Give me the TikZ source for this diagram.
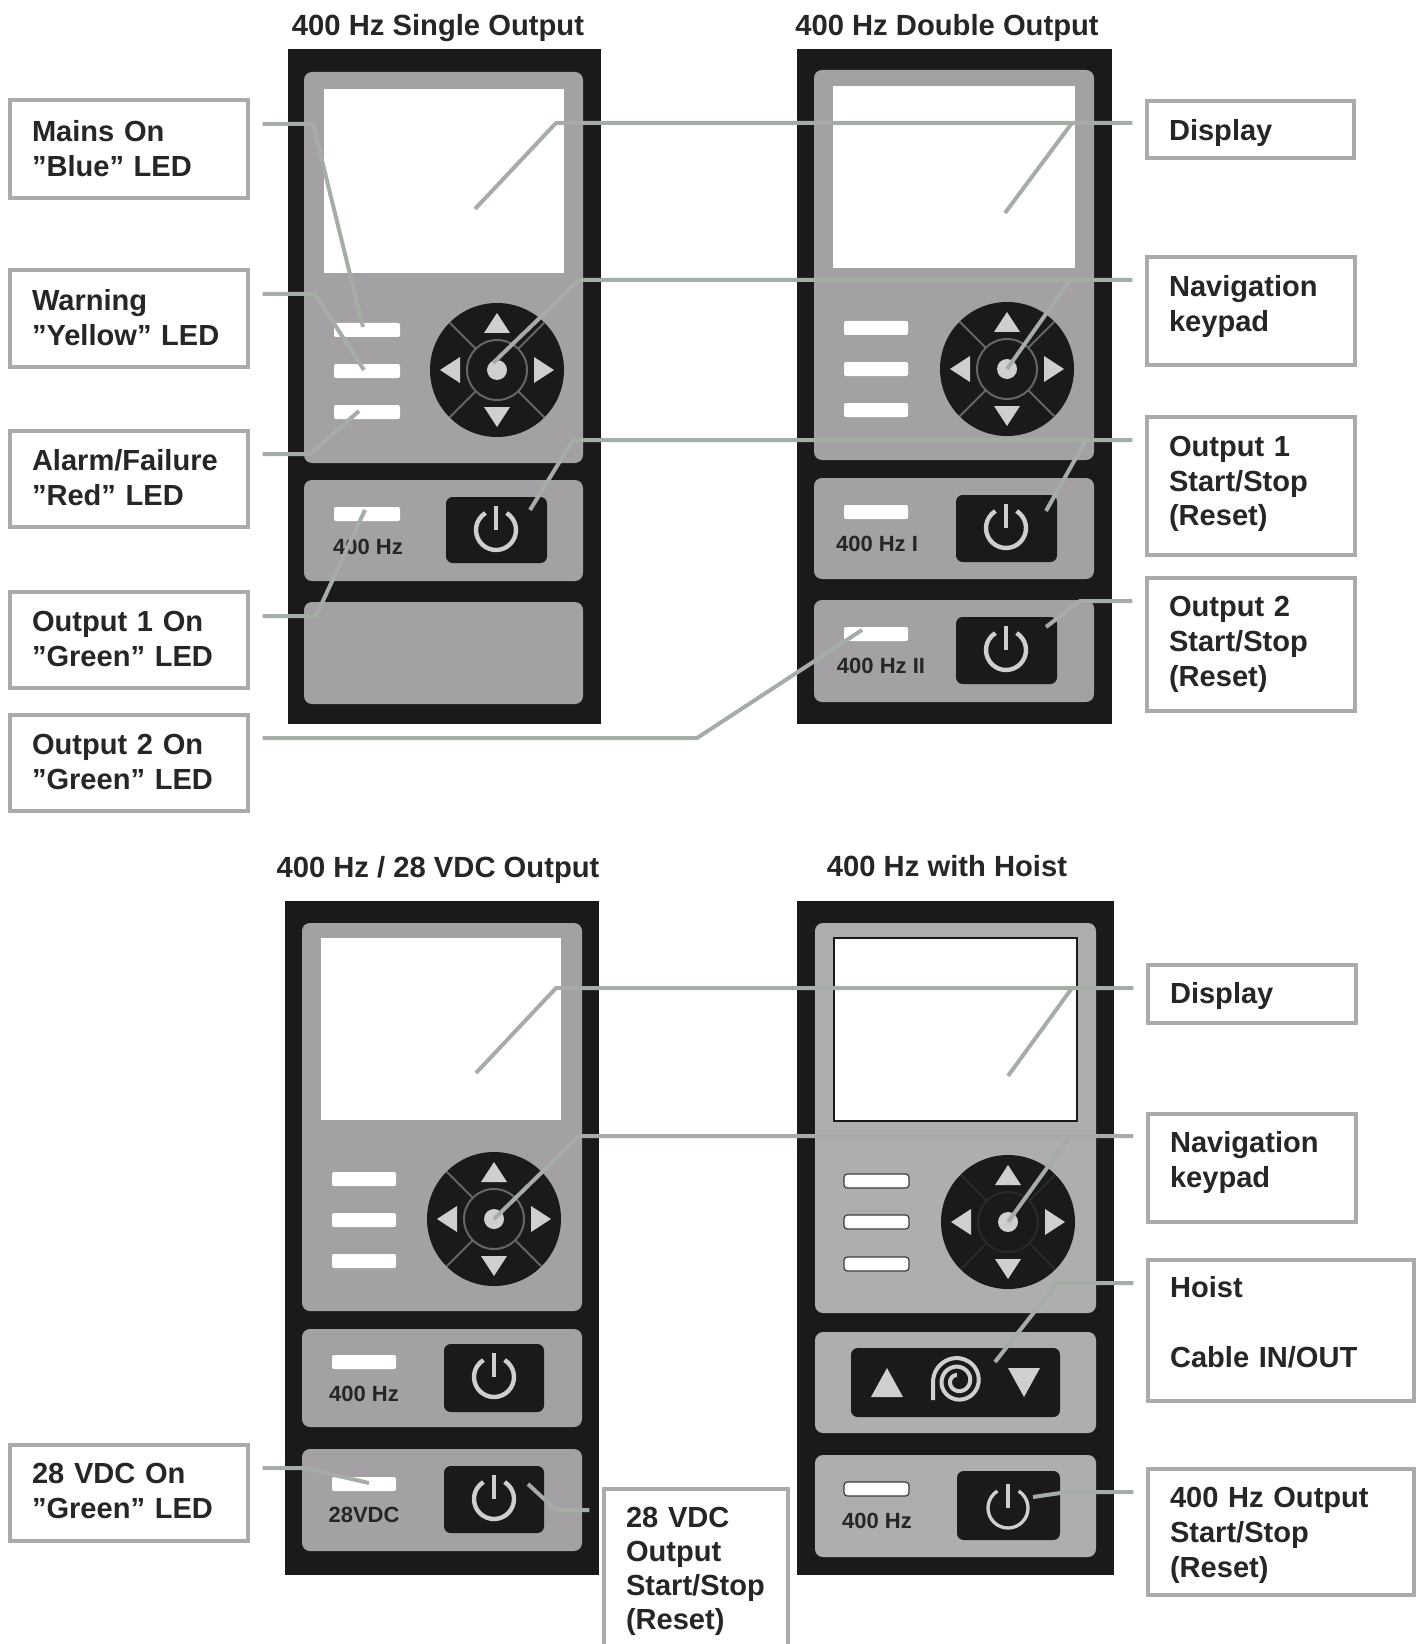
\documentclass[tikz,border=0pt]{standalone}
\usepackage{fontspec}
\setmainfont{Liberation Sans}
\definecolor{pblack}{HTML}{1A1A1A}
\definecolor{pgray}{HTML}{A3A1A3}
\definecolor{pgrayb}{HTML}{AEAEAE}
\definecolor{lborder}{HTML}{ABABAB}
\definecolor{leadc}{HTML}{A6ADA6}
\definecolor{iconc}{HTML}{CFCFCF}
\definecolor{ltext}{HTML}{262626}
\definecolor{kpfaint}{HTML}{2A2A2A}
\tikzset{
  base/.style={rectangle,inner sep=0pt,outer sep=0pt},
  outerp/.style={base,fill=pblack},
  sect/.style={base,fill=pgray,rounded corners=6pt},
  sectb/.style={base,fill=pgrayb,rounded corners=6pt},
  disp/.style={base,fill=white},
  dispb/.style={base,fill=white,draw=pblack,line width=1.2pt},
  led/.style={base,fill=white,rounded corners=1.5pt},
  ledb/.style={base,fill=white,draw=pblack!85,line width=0.9pt,rounded corners=2.5pt},
  btn/.style={base,fill=pblack,rounded corners=5pt},
  lbl/.style={base,draw=lborder,line width=3pt,fill=white,inner xsep=16.5pt,align=left,
    text width=\bxw-33pt,text=ltext,font=\fontsize{21.8}{26.2}\selectfont\bfseries},
  ttl/.style={base,text=ltext,font=\fontsize{21.9}{26}\selectfont\bfseries},
  ptxt/.style={base,text=ltext,font=\fontsize{16.5}{20}\selectfont\bfseries},
  leader/.style={draw=leadc,line width=3pt,line join=round},
  fromb/.style={leader,shorten <=11pt},
}
% invisible struts that move a label's lines inside its box
\newcommand\dpt[1]{\rule[-#1]{0pt}{#1}}
\newcommand\hgt[1]{\rule{0pt}{#1}}
\newcommand\bx[7][]{%
  \pgfmathsetlengthmacro\bxw{(#5-#3)*0.75}%
  \pgfmathsetlengthmacro\bxh{(#6-#4)*0.75}%
  \pgfmathsetmacro\bxcx{(#3+#5)/2}%
  \pgfmathsetmacro\bxcy{(#4+#6)/2}%
  \node[#1,minimum width=\bxw,minimum height=\bxh] (#2) at (\bxcx,\bxcy) {#7};}
\newcommand\kp[4]{%
  \node[base,circle,fill=pblack,minimum size=100.5pt] (#1) at (#2,#3) {};
  \begin{scope}[shift={(#2,#3)}]
    \draw[#4,line width=1.5pt] (0,0) circle[radius=22.5pt];
    \foreach \a in {45,135,225,315} \draw[#4,line width=1.5pt] (\a:22.5pt) -- (\a:50pt);
    \fill[iconc] (0,0) circle[radius=7.5pt];
    \foreach \a in {0,90,180,270} \fill[iconc,rotate=\a] (0,-57) -- (13,-37) -- (-13,-37) -- cycle;
  \end{scope}}
\newcommand\pw[3][3.3pt]{%
  \draw[iconc,line width=#1] ([shift={(58:15pt)}]#2,#3) arc[start angle=58,end angle=-238,radius=15pt];
  \draw[iconc,line width=#1] (#2,#3-24) -- (#2,#3);}
\begin{document}
\begin{tikzpicture}[x=0.75pt,y=-0.75pt]
\useasboundingbox (0,0) rectangle (1421,1644);
\fill[white] (0,0) rectangle (1421,1644);
% titles
\node[ttl] (t1) at (438,28) {400 Hz Single Output};
\node[ttl] (t2) at (947,28) {400 Hz Double Output};
\node[ttl] (t3) at (438,870) {400 Hz / 28 VDC Output};
\node[ttl] (t4) at (947,866) {400 Hz with Hoist};
% panel 1
\bx[outerp]{pa}{288}{49}{601}{724}{}
\bx[sect]{pam}{304}{72}{583}{463}{}
\bx[disp]{pad}{324}{89}{564}{273}{}
\bx[led]{pal1}{334}{323}{400}{337}{}
\bx[led]{pal2}{334}{364}{400}{378}{}
\bx[led]{pal3}{334}{405}{400}{419}{}
\kp{pak}{497}{370}{black!60}
\bx[sect]{pas}{304}{480}{583}{581}{}
\bx[led]{pal4}{334}{507}{400}{521}{}
\node[ptxt] (pat) at (368,547) {400 Hz};
\bx[btn]{pab}{446}{497}{547}{563}{}
\pw{496}{530}
\bx[sect]{pae}{304}{602}{583}{704}{}
% panel 2
\bx[outerp]{pb}{797}{49}{1112}{724}{}
\bx[sect]{pbm}{814}{70}{1094}{460}{}
\bx[disp]{pbd}{833}{86}{1075}{268}{}
\bx[led]{pbl1}{844}{321}{908}{335}{}
\bx[led]{pbl2}{844}{362}{908}{376}{}
\bx[led]{pbl3}{844}{403}{908}{417}{}
\kp{pbk}{1007}{369}{black!60}
\bx[sect]{pbs}{814}{478}{1094}{579}{}
\bx[led]{pbl4}{844}{505}{908}{519}{}
\node[ptxt] (pbt) at (877,544) {400 Hz I};
\bx[btn]{pbb}{956}{495}{1057}{562}{}
\pw{1006}{528}
\bx[sect]{pbe}{814}{600}{1094}{702}{}
\bx[led]{pbl5}{844}{627}{908}{641}{}
\node[ptxt] (pbu) at (881,666) {400 Hz II};
\bx[btn]{pbc}{956}{617}{1057}{684}{}
\pw{1006}{650}
% panel 3
\bx[outerp]{pc}{285}{901}{599}{1575}{}
\bx[sect]{pcm}{302}{923}{582}{1311}{}
\bx[disp]{pcd}{321}{938}{561}{1120}{}
\bx[led]{pcl1}{332}{1172}{396}{1186}{}
\bx[led]{pcl2}{332}{1213}{396}{1227}{}
\bx[led]{pcl3}{332}{1254}{396}{1268}{}
\kp{pck}{494}{1219}{black!60}
\bx[sect]{pcs}{302}{1329}{582}{1427}{}
\bx[led]{pcl4}{332}{1355}{396}{1369}{}
\node[ptxt] (pct) at (364,1394) {400 Hz};
\bx[btn]{pcb}{444}{1344}{544}{1412}{}
\pw{494}{1377}
\bx[sect]{pce}{302}{1449}{582}{1551}{}
\bx[led]{pcl5}{332}{1477}{396}{1491}{}
\node[ptxt] (pcu) at (364,1515) {28VDC};
\bx[btn]{pcc}{444}{1466}{544}{1533}{}
\pw{494}{1499}
% panel 4
\bx[outerp]{pd}{797}{901}{1114}{1575}{}
\bx[sectb]{pdm}{815}{923}{1096}{1313}{}
\bx[dispb]{pdd}{834}{938}{1077}{1121}{}
\bx[ledb]{pdl1}{844}{1174}{909}{1188}{}
\bx[ledb]{pdl2}{844}{1215}{909}{1229}{}
\bx[ledb]{pdl3}{844}{1257}{909}{1271}{}
\kp{pdk}{1008}{1222}{kpfaint}
\bx[sectb]{pds}{815}{1332}{1096}{1433}{}
\bx[btn]{pdh}{851}{1348}{1060}{1417}{}
\fill[iconc] (887,1368) -- (903,1397) -- (871,1397) -- cycle;
\fill[iconc] (1024,1397) -- (1040,1368) -- (1008,1368) -- cycle;
\draw[iconc,line width=3pt] (933,1400) -- (933,1381) -- plot[smooth,domain=0:1,samples=70,variable=\t]
  ({958+(25-19*\t)*cos(180-800*\t)},{1381-(25-19*\t)*sin(180-800*\t)});
\bx[sectb]{pde}{815}{1455}{1096}{1557}{}
\bx[ledb]{pdl4}{844}{1482}{909}{1496}{}
\node[ptxt] (pdt) at (877,1521) {400 Hz};
\bx[btn]{pdb}{957}{1471}{1060}{1540}{}
\pw[2.5pt]{1008}{1508}
% label boxes
\bx[lbl]{lmains}{10}{100}{248}{198}{Mains On\\”Blue” LED}
\bx[lbl]{lwarn}{10}{270}{248}{367}{Warning\\”Yellow” LED\dpt{1.6pt}}
\bx[lbl]{lalarm}{10}{431}{248}{527}{Alarm/Failure\\”Red” LED\dpt{2.4pt}}
\bx[lbl]{lout1}{10}{592}{248}{688}{Output 1 On\\”Green” LED\dpt{1.6pt}}
\bx[lbl]{lout2}{10}{715}{248}{811}{Output 2 On\\”Green” LED\dpt{2.4pt}}
\bx[lbl]{lvdc}{10}{1445}{248}{1541}{28 VDC On\\”Green” LED\dpt{3.1pt}}
\bx[lbl]{rdisp}{1147}{101}{1354}{158}{\hgt{20.6pt}Display}
\bx[lbl]{rnav}{1147}{257}{1355}{365}{Navigation\\keypad\dpt{11.6pt}}
\bx[lbl]{rout1}{1147}{417}{1355}{555}{Output 1\\Start/Stop\\(Reset)\dpt{7.7pt}}
\bx[lbl]{rout2}{1147}{578}{1355}{711}{Output 2\\Start/Stop\\(Reset)}
\bx[lbl]{qdisp}{1148}{965}{1356}{1023}{\hgt{19pt}Display}
\bx[lbl]{qnav}{1148}{1114}{1356}{1222}{Navigation\\keypad\dpt{12.4pt}}
\bx[lbl]{qhoist}{1148}{1260}{1414}{1401}{Hoist\\[26.2pt]Cable IN/OUT\dpt{13pt}}
\bx[lbl]{qout}{1148}{1469}{1414}{1595}{\hgt{20.6pt}400 Hz Output\\Start/Stop\\(Reset)}
\bx[lbl,font=\fontsize{21.8}{25.4}\selectfont\bfseries]{lvout}{604}{1489}{788}{1650}{\hgt{18.3pt}28 VDC\\Output\\Start/Stop\\(Reset)}
% leader points
\coordinate (e1) at (313,124);   \coordinate (e2) at (315,294);
\coordinate (e3) at (310,454);   \coordinate (e4) at (316,616);
\coordinate (e5) at (697,738);
\coordinate (e6) at (556,123);   \coordinate (e6b) at (1072,123);
\coordinate (e7) at (579,280);   \coordinate (e7b) at (1070,280);
\coordinate (e8) at (573,440);   \coordinate (e8b) at (1086,440);
\coordinate (e9) at (1080,601);
\coordinate (e10) at (556,988);  \coordinate (e10b) at (1072,988);
\coordinate (e11) at (579,1136); \coordinate (e11b) at (1070,1136);
\coordinate (e12) at (1057,1283);
\coordinate (e13) at (1067,1492);
\coordinate (e14) at (304,1468);
\coordinate (e15) at (556,1510);
\coordinate (d1) at (475,209);   \coordinate (d2) at (1005,213);
\coordinate (d3) at (476,1073);  \coordinate (d4) at (1008,1076);
\coordinate (b1) at (530,510);   \coordinate (b2) at (1046,511);
\coordinate (b3) at (1046,627);  \coordinate (b4) at (528,1484);
\coordinate (b5) at (1033,1497); \coordinate (h1) at (995,1362);
% leaders
\draw[fromb] (lmains.east |- e1) -- (e1) -- ([shift={(-4,-3)}]pal1.center);
\draw[fromb] (lwarn.east |- e2) -- (e2) -- ([shift={(-3,-1)}]pal2.center);
\draw[fromb] (lalarm.east |- e3) -- (e3) -- ([shift={(-8,-1)}]pal3.center);
\draw[fromb] (lout1.east |- e4) -- (e4) -- ([shift={(-2,-4)}]pal4.center);
\draw[fromb] (lout2.east |- e5) -- (e5) -- ([shift={(-14,-4)}]pbl5.center);
\draw[fromb] (rdisp.west |- e6) -- (e6) -- (d1);
\draw[leader] (e6b) -- (d2);
\draw[fromb] (rnav.west |- e7) -- (e7) -- ([shift={(-4,-7)}]pak.center);
\draw[leader] (e7b) -- (pbk.center);
\draw[fromb] (rout1.west |- e8) -- (e8) -- (b1);
\draw[leader] (e8b) -- (b2);
\draw[fromb] (rout2.west |- e9) -- (e9) -- (b3);
\draw[fromb] (qdisp.west |- e10) -- (e10) -- (d3);
\draw[leader] (e10b) -- (d4);
\draw[fromb] (qnav.west |- e11) -- (e11) -- (pck.center);
\draw[leader] (e11b) -- (pdk.center);
\draw[fromb] (qhoist.west |- e12) -- (e12) -- (h1);
\draw[fromb] (qout.west |- e13) -- (e13) -- (b5);
\draw[fromb] (lvdc.east |- e14) -- (e14) -- ([shift={(5,-1)}]pcl5.center);
\draw[fromb] (lvout.west |- e15) -- (e15) -- (b4);
\end{tikzpicture}
\end{document}
